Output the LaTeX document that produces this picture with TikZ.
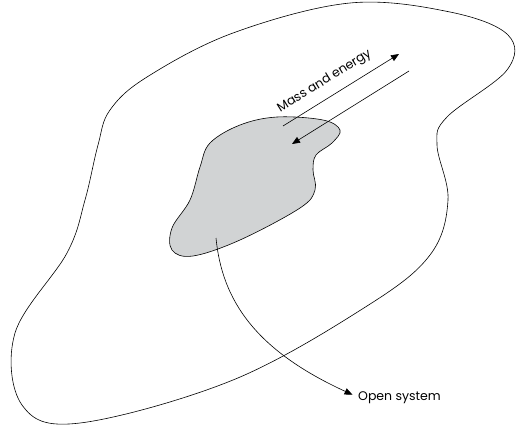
\documentclass[tikz,border=0pt]{standalone}
\usepackage{fontspec}
\setmainfont{Poppins}
\usetikzlibrary{arrows.meta}
\tikzset{
  outline/.style={line width=0.6pt, black},
  flow/.style={line width=0.6pt, -{Triangle[length=8pt,width=6.5pt]}},
  lbl/.style={font=\fontsize{12.5}{14}\selectfont, inner sep=0pt}
}
\begin{document}
\begin{tikzpicture}[x=1pt,y=-1pt]
\useasboundingbox (0,0) rectangle (516,426);
% surroundings
\draw[outline] plot[smooth cycle, tension=0.6] coordinates {
 (110,110) (147,77) (233,33) (350,3) (450,12) (508,35) (507,70) (447,117)
 (437,145) (448,200) (430,255) (367,306) (233,380) (80,423) (22,405)
 (15,333) (67,253) (85,200) (98,145)};
% open system
\draw[outline, fill={rgb,255:red,209;green,211;blue,212}] plot[smooth cycle, tension=0.6] coordinates {
 (277,117) (323,120) (340,130) (332,143) (316,155) (313,170) (315,190)
 (300,208) (240,240) (193,256) (172,250) (172,228) (190,200) (200,167)
 (210,143) (240,125)};
% arrows
\coordinate (outS) at (283,126);
\coordinate (outE) at (399,54);
\coordinate (inS) at (409,71);
\coordinate (inE) at (292,144);
\draw[flow] (outS) -- (outE);
\draw[flow] (inS) -- (inE);
\node[lbl, rotate=31.7, anchor=south] (me) at (328,87) {Mass and energy};
% label arrow
\coordinate (sysS) at (216,238);
\node[lbl, anchor=base west] (os) at (358,400) {Open system};
\draw[flow, shorten >=6pt] (sysS) .. controls (222,300) and (255,350) .. (os.west);
\end{tikzpicture}
\end{document}
